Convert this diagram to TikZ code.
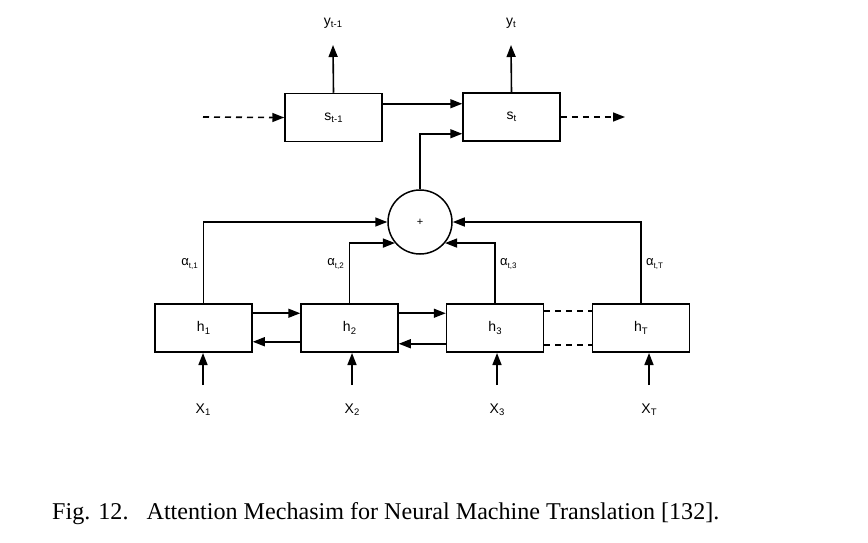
\documentclass[tikz,border=0pt]{standalone}
\usepackage{fontspec}
\setmainfont{Liberation Sans}
\newfontfamily\capfont{Liberation Serif}
\usetikzlibrary{arrows.meta}
\newcommand{\lsub}[1]{\raisebox{-0.3ex}{\fontsize{9.5}{10}\selectfont #1}}
\newcommand{\asub}[1]{\raisebox{-0.3ex}{\fontsize{8}{9}\selectfont #1}}
\tikzset{
  box/.style={draw, line width=1.5pt, minimum width=97pt, minimum height=48pt, inner sep=0pt, font=\fontsize{14}{16}\selectfont},
  conn/.style={line width=1.6pt, -{Triangle[length=12pt,width=9pt]}},
  dconn/.style={line width=1.6pt, dash pattern=on 6pt off 5pt},
  lbl/.style={inner sep=0pt, font=\fontsize{14}{16}\selectfont},
  albl/.style={inner sep=0pt, font=\fontsize{13}{15}\selectfont},
}
\begin{document}
\begin{tikzpicture}[x=1pt,y=-1pt]
\useasboundingbox[fill=white] (0,0) rectangle (868,543);
% decoder states
\node[box] (stm) at (333.5,117.5) {s\lsub{t-1}};
\node[box] (st) at (511.5,117) {s\lsub{t}};
\node[lbl] (ytm) at (333,23) {y\lsub{t-1}};
\node[lbl] (yt) at (511,23) {y\lsub{t}};
\coordinate (ytmend) at (333,45);
\coordinate (ytend) at (511,45);
\draw[conn] (stm.north) -- (ytmend);
\draw[conn] (st.north) -- (ytend);
\coordinate (din) at (203,117);
\coordinate (dout) at (625,117);
\draw[dconn] (din) -- ([xshift=-12pt]stm.west);
\draw[conn] ([xshift=-12pt]stm.west) -- (stm.west);
\draw[dconn] (st.east) -- ([xshift=-12pt]dout);
\draw[conn] ([xshift=-12pt]dout) -- (dout);
\coordinate (a1) at ([yshift=-11pt]stm.north east);
\draw[conn] (a1) -- (a1 -| st.west);
% sum node
\node[draw, circle, line width=1.5pt, minimum size=64pt, inner sep=0pt, font=\fontsize{11}{12}\selectfont] (plus) at (420,222) {+};
\coordinate (a2) at ([yshift=8pt]st.south west);
\draw[conn] (plus.north) |- (a2);
% encoder states
\node[box] (h1) at (203.5,328) {h\lsub{1}};
\node[box] (h2) at (349.5,328) {h\lsub{2}};
\node[box] (h3) at (495,328) {h\lsub{3}};
\node[box] (hT) at (641,328) {h\lsub{T}};
% attention weights
\draw[conn] (h1.north) |- (plus.west);
\draw[conn] (h2.north) |- (plus.-140);
\draw[conn] (h3.north) |- (plus.-40);
\draw[conn] (hT.north) |- (plus.east);
\node[albl, anchor=east] (al1) at (198,264) {α\asub{t,1}};
\node[albl, anchor=east] (al2) at (344,264) {α\asub{t,2}};
\node[albl, anchor=west] (al3) at (500,264) {α\asub{t,3}};
\node[albl, anchor=west] (alT) at (646,264) {α\asub{t,T}};
% bidirectional links
\coordinate (b1) at ([yshift=-10pt]h1.north east);
\draw[conn] (b1) -- (b1 -| h2.west);
\coordinate (b2) at ([yshift=11pt]h2.south west);
\draw[conn] (b2) -- (b2 -| h1.east);
\coordinate (b3) at ([yshift=-10pt]h2.north east);
\draw[conn] (b3) -- (b3 -| h3.west);
\coordinate (b4) at ([yshift=9pt]h3.south west);
\draw[conn] (b4) -- (b4 -| h2.east);
\coordinate (b5) at ([yshift=-8pt]h3.north east);
\draw[dconn] (b5) -- (b5 -| hT.west);
\coordinate (b6) at ([yshift=8pt]h3.south east);
\draw[dconn] (b6) -- (b6 -| hT.west);
% inputs
\node[lbl] (x1) at (203,410) {X\lsub{1}};
\node[lbl] (x2) at (352,410) {X\lsub{2}};
\node[lbl] (x3) at (497,410) {X\lsub{3}};
\node[lbl] (xT) at (649,410) {X\lsub{T}};
\coordinate (x1s) at (203,385); \coordinate (x1e) at (203,353);
\coordinate (x2s) at (352,385); \coordinate (x2e) at (352,353);
\coordinate (x3s) at (497,385); \coordinate (x3e) at (497,353);
\coordinate (xTs) at (649,385); \coordinate (xTe) at (649,353);
\draw[conn] (x1s) -- (x1e);
\draw[conn] (x2s) -- (x2e);
\draw[conn] (x3s) -- (x3e);
\draw[conn] (xTs) -- (xTe);
% caption
\node[anchor=base west, inner sep=0pt, font=\capfont\fontsize{24.1}{26}\selectfont] (cap) at (52,519) {Fig. 12.\hspace{0.75em}Attention Mechasim for Neural Machine Translation [132].};
\end{tikzpicture}
\end{document}
